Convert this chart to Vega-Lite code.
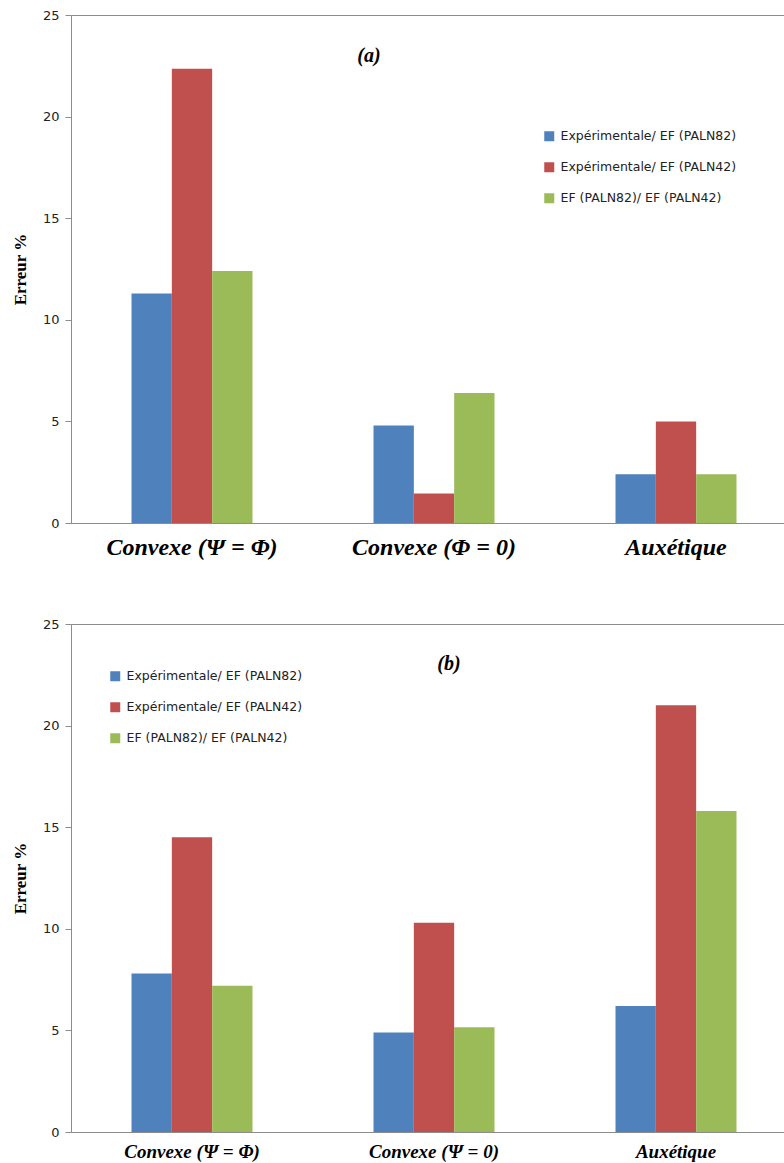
{
  "$schema": "https://vega.github.io/schema/vega-lite/v6.json",
  "background": "white",
  "padding": {"left": 10, "top": 8, "right": 0, "bottom": 0},
  "datasets": {
    "a": [
      {"category": "Convexe (Ψ = Φ)", "series": "Expérimentale/ EF (PALN82)", "value": 11.3},
      {"category": "Convexe (Ψ = Φ)", "series": "Expérimentale/ EF (PALN42)", "value": 22.35},
      {"category": "Convexe (Ψ = Φ)", "series": "EF (PALN82)/ EF (PALN42)", "value": 12.4},
      {"category": "Convexe (Φ = 0)", "series": "Expérimentale/ EF (PALN82)", "value": 4.8},
      {"category": "Convexe (Φ = 0)", "series": "Expérimentale/ EF (PALN42)", "value": 1.45},
      {"category": "Convexe (Φ = 0)", "series": "EF (PALN82)/ EF (PALN42)", "value": 6.4},
      {"category": "Auxétique", "series": "Expérimentale/ EF (PALN82)", "value": 2.4},
      {"category": "Auxétique", "series": "Expérimentale/ EF (PALN42)", "value": 5.0},
      {"category": "Auxétique", "series": "EF (PALN82)/ EF (PALN42)", "value": 2.4}
    ],
    "b": [
      {"category": "Convexe (Ψ = Φ)", "series": "Expérimentale/ EF (PALN82)", "value": 7.8},
      {"category": "Convexe (Ψ = Φ)", "series": "Expérimentale/ EF (PALN42)", "value": 14.5},
      {"category": "Convexe (Ψ = Φ)", "series": "EF (PALN82)/ EF (PALN42)", "value": 7.2},
      {"category": "Convexe (Ψ = 0)", "series": "Expérimentale/ EF (PALN82)", "value": 4.9},
      {"category": "Convexe (Ψ = 0)", "series": "Expérimentale/ EF (PALN42)", "value": 10.3},
      {"category": "Convexe (Ψ = 0)", "series": "EF (PALN82)/ EF (PALN42)", "value": 5.15},
      {"category": "Auxétique", "series": "Expérimentale/ EF (PALN82)", "value": 6.2},
      {"category": "Auxétique", "series": "Expérimentale/ EF (PALN42)", "value": 21.0},
      {"category": "Auxétique", "series": "EF (PALN82)/ EF (PALN42)", "value": 15.8}
    ]
  },
  "config": {
    "view": {"stroke": "#8c8c8c", "strokeWidth": 1},
    "axis": {"grid": false, "domainColor": "#8c8c8c", "tickColor": "#8c8c8c"},
    "legend": {
      "orient": "none",
      "title": null,
      "symbolType": "square",
      "symbolSize": 100,
      "symbolStrokeWidth": 0,
      "labelFont": "DejaVu Sans",
      "labelFontSize": 12.5,
      "labelColor": "#222222",
      "labelOffset": 5,
      "rowPadding": 18,
      "labelLimit": 400
    }
  },
  "spacing": 57,
  "resolve": {"scale": {"color": "independent"}, "legend": {"color": "independent"}},
  "vconcat": [
    {
      "width": 726,
      "height": 508,
      "title": {"text": "(a)", "font": "Liberation Serif", "fontSize": 20, "fontStyle": "italic", "fontWeight": "bold", "color": "black", "anchor": "middle", "frame": "group", "dx": -65, "dy": 61},
      "data": {"name": "a"},
      "mark": {"type": "bar"},
      "encoding": {
        "x": {
          "field": "category", "type": "nominal",
          "sort": ["Convexe (Ψ = Φ)", "Convexe (Φ = 0)", "Auxétique"],
          "scale": {"paddingInner": 0.5, "paddingOuter": 0.25},
          "axis": {"title": null, "labelAngle": 0, "ticks": false, "labelFont": "Liberation Serif", "labelFontSize": 24, "labelFontStyle": "italic", "labelFontWeight": "bold", "labelColor": "black", "labelPadding": 12}
        },
        "xOffset": {
          "field": "series", "type": "nominal",
          "sort": ["Expérimentale/ EF (PALN82)", "Expérimentale/ EF (PALN42)", "EF (PALN82)/ EF (PALN42)"],
          "scale": {"paddingInner": 0, "paddingOuter": 0}
        },
        "y": {
          "field": "value", "type": "quantitative",
          "scale": {"domain": [0, 25]},
          "axis": {"values": [0, 5, 10, 15, 20, 25], "title": "Erreur %", "titleFont": "Liberation Serif", "titleFontSize": 17, "titleFontWeight": "bold", "titleColor": "black", "titlePadding": 13, "labelFont": "DejaVu Sans", "labelFontSize": 13, "labelColor": "#222222", "labelPadding": 6, "tickSize": 6}
        },
        "color": {
          "field": "series", "type": "nominal",
          "scale": {"domain": ["Expérimentale/ EF (PALN82)", "Expérimentale/ EF (PALN42)", "EF (PALN82)/ EF (PALN42)"], "range": ["#4F81BD", "#C0504D", "#9BBB59"]},
          "legend": {"legendX": 472, "legendY": 115}
        }
      }
    },
    {
      "width": 726,
      "height": 508,
      "title": {"text": "(b)", "font": "Liberation Serif", "fontSize": 20, "fontStyle": "italic", "fontWeight": "bold", "color": "black", "anchor": "middle", "frame": "group", "dx": 15, "dy": 60},
      "data": {"name": "b"},
      "mark": {"type": "bar"},
      "encoding": {
        "x": {
          "field": "category", "type": "nominal",
          "sort": ["Convexe (Ψ = Φ)", "Convexe (Ψ = 0)", "Auxétique"],
          "scale": {"paddingInner": 0.5, "paddingOuter": 0.25},
          "axis": {"title": null, "labelAngle": 0, "ticks": false, "labelFont": "Liberation Serif", "labelFontSize": 19, "labelFontStyle": "italic", "labelFontWeight": "bold", "labelColor": "black", "labelPadding": 10}
        },
        "xOffset": {
          "field": "series", "type": "nominal",
          "sort": ["Expérimentale/ EF (PALN82)", "Expérimentale/ EF (PALN42)", "EF (PALN82)/ EF (PALN42)"],
          "scale": {"paddingInner": 0, "paddingOuter": 0}
        },
        "y": {
          "field": "value", "type": "quantitative",
          "scale": {"domain": [0, 25]},
          "axis": {"values": [0, 5, 10, 15, 20, 25], "title": "Erreur %", "titleFont": "Liberation Serif", "titleFontSize": 17, "titleFontWeight": "bold", "titleColor": "black", "titlePadding": 13, "labelFont": "DejaVu Sans", "labelFontSize": 13, "labelColor": "#222222", "labelPadding": 6, "tickSize": 6}
        },
        "color": {
          "field": "series", "type": "nominal",
          "scale": {"domain": ["Expérimentale/ EF (PALN82)", "Expérimentale/ EF (PALN42)", "EF (PALN82)/ EF (PALN42)"], "range": ["#4F81BD", "#C0504D", "#9BBB59"]},
          "legend": {"legendX": 38, "legendY": 46}
        }
      }
    }
  ]
}
